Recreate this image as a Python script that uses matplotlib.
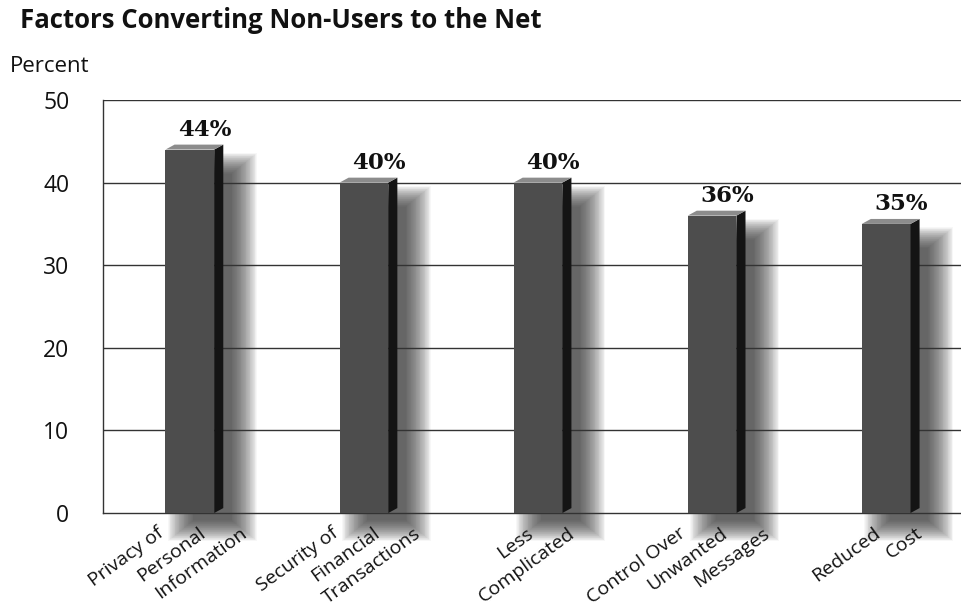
import matplotlib
matplotlib.use('Agg')
import matplotlib.pyplot as plt
from matplotlib.patches import Rectangle, Polygon

# values
factors = [
	"Privacy of\nPersonal\nInformation",
	"Security of\nFinancial\nTransactions",
	"Less\nComplicated",
	"Control Over\nUnwanted\nMessages",
	"Reduced\nCost",
]
percents = [44, 40, 40, 36, 35]
y_ticks = [0, 10, 20, 30, 40, 50]

FRONT = "#4d4d4d"
SIDE = "#141414"
TOP = "#8c8c8c"
SHADOW = "#2e2e2e"
INK = "#111111"

plt.rcParams['font.family'] = ['Open Sans', 'DejaVu Sans']

figure = plt.figure(figsize=(9.61, 6.09), dpi=100)
ax = figure.add_axes([0.107, 0.1576, 0.893, 0.6782])

ax.set_xlim(-0.5, 4.43)
ax.set_ylim(0, 50)

width = 0.28
depth_x = 0.052   # side face, in x units
depth_y = 0.6     # top face rise, in y units

for i, value in enumerate(percents):
	x0, x1 = i - width / 2, i + width / 2

	# soft drop shadow, built from stacked translucent rectangles
	for k in range(32):
		grow_x = 0.0047 * k
		grow_y = 0.08 * k
		ax.add_patch(Rectangle((x0 + 0.16 - grow_x, -0.9 - grow_y),
			0.22 + 2 * grow_x, value - 2.0 + 2 * grow_y,
			facecolor=SHADOW, edgecolor="none", alpha=0.036,
			zorder=1, clip_on=False))

	# front face
	ax.add_patch(Rectangle((x0, 0), width, value, facecolor=FRONT,
		edgecolor="none", zorder=4))
	# side face
	ax.add_patch(Polygon([(x1, 0), (x1 + depth_x, depth_y), (x1 + depth_x, value + depth_y), (x1, value)],
		closed=True, facecolor=SIDE, edgecolor="none", zorder=4))
	# top face
	ax.add_patch(Polygon([(x0, value), (x1, value), (x1 + depth_x, value + depth_y), (x0 + depth_x, value + depth_y)],
		closed=True, facecolor=TOP, edgecolor="none", zorder=4))

	ax.annotate("%d%%" % value, xy=(i, value), xytext=(11, 10), textcoords="offset points",
		ha="center", va="baseline", fontsize=16.5, fontweight="bold",
		family=["DejaVu Serif"], color=INK, zorder=5)

# horizontal grid lines, drawn above the shadow but under the bars
for tick in y_ticks[1:]:
	ax.axhline(tick, color="#333333", linewidth=1.0, zorder=2)

ax.set_yticks(y_ticks)
ax.set_yticklabels([str(t) for t in y_ticks], fontsize=16.5, color=INK)
ax.tick_params(axis="y", length=0, pad=24)
ax.set_xticks([])

for side in ["top", "right"]:
	ax.spines[side].set_visible(False)
for side in ["left", "bottom"]:
	ax.spines[side].set_color("#333333")
	ax.spines[side].set_linewidth(1.0)
	ax.spines[side].set_zorder(3)

# rotated category labels, one line at a time, each line shifted right
LINE_SHIFT = 30
for i, label in enumerate(factors):
	lines = label.split("\n")
	n = len(lines)
	for k, line in enumerate(lines):
		dx = (k - (n - 1) / 2.) * LINE_SHIFT + 6
		ax.annotate(line, xy=(i, 0), xycoords=("data", "axes fraction"),
			xytext=(dx, -8), textcoords="offset points",
			rotation=36, rotation_mode="anchor", ha="right", va="top",
			fontsize=14, color=INK, annotation_clip=False)

figure.text(0.021, 0.967, "Factors Converting Non-Users to the Net", fontsize=18.5,
	fontweight="bold", color=INK, ha="left", va="center")
figure.text(0.010, 0.89, "Percent", fontsize=16, color=INK, ha="left", va="center")

plt.savefig("out.png", dpi=100)
